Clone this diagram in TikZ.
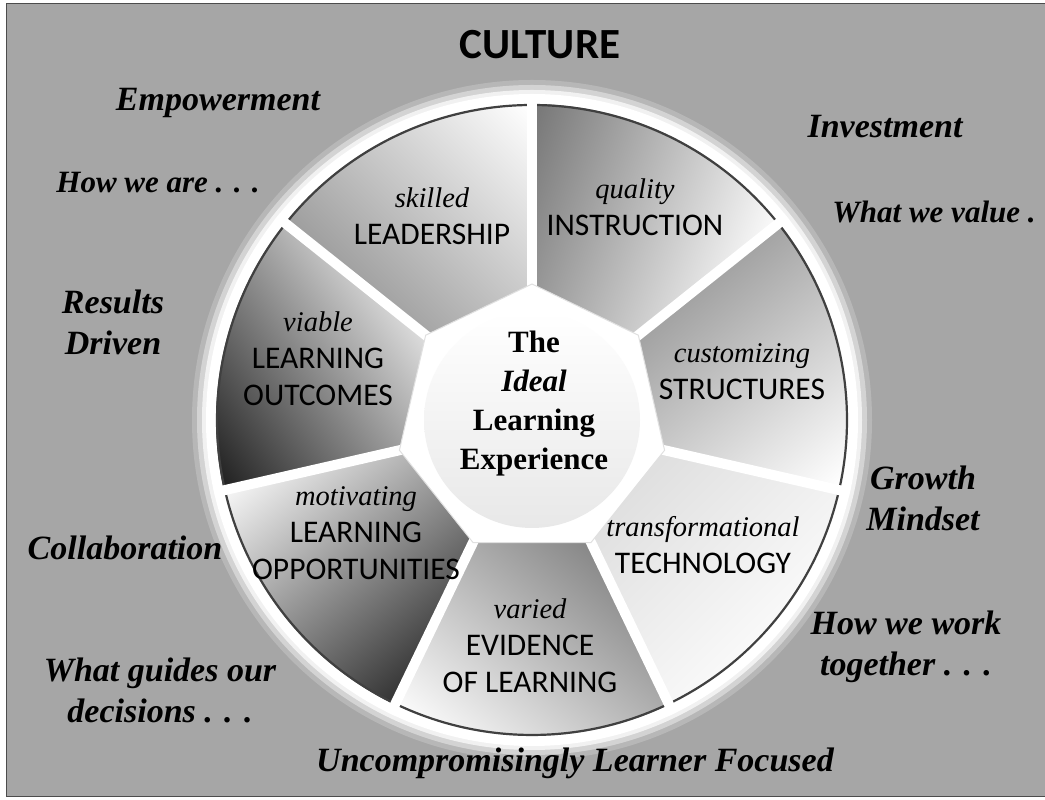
\documentclass[tikz,border=0pt]{standalone}
\usepackage{fontspec}
\setmainfont{Liberation Serif}
\setsansfont{Carlito}

\definecolor{bggray}{gray}{0.65}
\definecolor{rimgray}{gray}{0.25}

% small italic word above each segment name
\newcommand{\segadj}[1]{{\rmfamily\itshape\fontsize{28.5}{37}\selectfont #1}}

\tikzset{
  outer label/.style={font=\bfseries\itshape\fontsize{34}{41}\selectfont, align=center, text=black},
  seg label/.style={font=\sffamily\fontsize{31.5}{37}\selectfont, align=center},
  hub label/.style={font=\bfseries\fontsize{31}{39}\selectfont, align=center},
  title label/.style={font=\sffamily\bfseries\fontsize{43}{46}\selectfont}
}

\begin{document}
\begin{tikzpicture}[x=1pt,y=1pt]
        \useasboundingbox (0,0) rectangle (1045,800);

        % Sfondo grigio con cornice
        \fill[white] (0,0) rectangle (1045,800);
        \filldraw[fill=bggray, draw=black!70, line width=1pt] (6,3) rectangle (1045,796);

        % Ruota
        \begin{scope}[shift={(532,380)}]
          % alone bianco
          \fill[white, opacity=.2] (0,0) circle (340);
          \fill[white, opacity=.4] (0,0) circle (335);
          \fill[white, opacity=.7] (0,0) circle (330);
          \fill[white] (0,0) circle (326);

          % sette spicchi sfumati (scuro verso \dir, visto dal centro dello spicchio)
          \foreach \i/\dark/\midc/\dir in {0/black!58/black!28/160, 1/black!45/black!15/130,
                                          2/black!15/white/135, 3/black!55/black!22/50,
                                          4/black!85/black!28/-50, 5/black!88/black!25/215,
                                          6/black!45/black!15/225} {
            \pgfmathsetmacro{\start}{90-\i*360/7}
            \pgfmathsetmacro{\stop}{90-(\i+1)*360/7}
            \pgfmathsetmacro{\ang}{90-(\i+.5)*360/7}
            \pgfmathsetmacro{\rot}{\dir-90}
            \begin{scope}
              \clip (0,0) -- (\start:316) arc[start angle=\start, end angle=\stop, radius=316] -- cycle;
              \shade[top color=\dark, middle color=\midc, bottom color=white, shading angle=\rot]
                (\ang:215) ++(-150,-150) rectangle ++(300,300);
            \end{scope}
            \draw[rimgray, line width=2.2pt]
              (\start:315) arc[start angle=\start, end angle=\stop, radius=315];
          }

          % fessure bianche tra gli spicchi
          \foreach \i in {0,...,6}
            \draw[white, line width=10pt] (0,0) -- ({90-\i*360/7}:326);

          % ettagono e cerchio centrale
          \filldraw[fill=white, draw=black!12, line width=1pt]
            (90:136) \foreach \i in {1,...,6} { -- ({90-\i*360/7}:136) } -- cycle;
          \shade[top color=white, middle color=white, bottom color=black!9] (0,0) circle (108);

          % Testi degli spicchi
          \node[seg label] (lead) at (-100,204) {\segadj{skilled}\\LEADERSHIP};
          \node[seg label] (instr) at (103,213) {\segadj{quality}\\INSTRUCTION};
          \node[seg label] (struct) at (210,48) {\segadj{customizing}\\STRUCTURES};
          \node[seg label] (tech) at (171,-125) {\segadj{transformational}\\TECHNOLOGY};
          \node[seg label] (evid) at (-2,-226) {\segadj{varied}\\EVIDENCE\\OF LEARNING};
          \node[seg label] (oppor) at (-176,-113) {\segadj{motivating}\\LEARNING\\OPPORTUNITIES};
          \node[seg label] (outc) at (-214,61) {\segadj{viable}\\LEARNING\\OUTCOMES};
          \node[hub label] (hub) at (2,16) {The\\\textit{Ideal}\\Learning\\Experience};
        \end{scope}

        % Titolo e scritte esterne
        \node[title label] (culture) at (540,755) {CULTURE};
        \node[outer label] (empower) at (218,697) {Empowerment};
        \node[outer label, font=\bfseries\itshape\fontsize{31}{38}\selectfont] (howare) at (158,617) {How we are . . .};
        \node[outer label] (results) at (113,478) {Results\\Driven};
        \node[outer label] (invest) at (885,673) {Investment};
        \node[outer label, font=\bfseries\itshape\fontsize{31}{38}\selectfont] (value) at (934,588) {What we value .};
        \node[outer label] (growth) at (923,302) {Growth\\Mindset};
        \node[outer label] (collab) at (125,252) {Collaboration};
        \node[outer label] (guides) at (160,110) {What guides our\\decisions . . .};
        \node[outer label] (work) at (906,153) {How we work\\together . . .};
        \node[outer label] (learner) at (575,37) {Uncompromisingly Learner Focused};

\end{tikzpicture}
\end{document}
